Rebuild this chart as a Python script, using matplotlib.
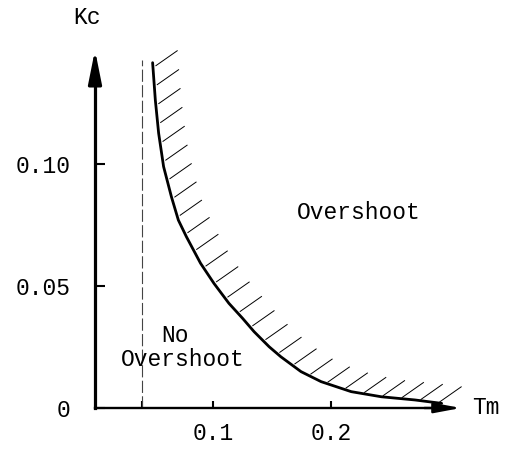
import matplotlib
matplotlib.use("Agg")
import matplotlib.pyplot as plt
import numpy as np

# boundary curve between overshoot / no overshoot regions
tm = [0.0488, 0.0511, 0.0539, 0.0581, 0.0647, 0.0706, 0.0774, 0.0894,
      0.1007, 0.1134, 0.1249, 0.1347, 0.1475, 0.1574, 0.1745, 0.1915,
      0.2170, 0.2426, 0.2709, 0.2936]
kc = [0.1415, 0.1262, 0.1126, 0.0989, 0.0866, 0.0770, 0.0702, 0.0593,
      0.0511, 0.0429, 0.0368, 0.0313, 0.0251, 0.0210, 0.0149, 0.0108,
      0.0067, 0.0046, 0.0033, 0.0019]

tm_limit = 0.04          # dashed vertical asymptote
tm_limit_top = 0.1426

x_ticks = [0.1, 0.2]
x_ticklabels = ["0.1", "0.2"]
y_ticks = [0.0, 0.05, 0.10]
y_ticklabels = ["0", "0.05", "0.10"]

FONT = "Liberation Mono"
FS = 16.5

W, H = 506, 450
fig = plt.figure(figsize=(W / 100, H / 100), dpi=100)
ax = fig.add_axes([95 / W, (H - 408) / H, (461 - 95) / W, (408 - 50) / H])
ax.set_xlim(0, 0.31)
ax.set_ylim(0, 0.1467)

for s in ("top", "right"):
    ax.spines[s].set_visible(False)
ax.spines["left"].set_linewidth(2.3)
ax.spines["left"].set_bounds(0, 0.135)
ax.spines["bottom"].set_linewidth(1.7)
ax.spines["bottom"].set_bounds(0, 0.29)

# arrow heads on the axes
ax.annotate("", xy=(0, 1), xytext=(0, 0.9), xycoords="axes fraction",
            arrowprops=dict(arrowstyle="-|>,head_length=1.0,head_width=0.2",
                            mutation_scale=20, lw=2.3, color="black",
                            shrinkA=0, shrinkB=0))
ax.annotate("", xy=(1, 0), xytext=(0.9, 0), xycoords="axes fraction",
            arrowprops=dict(arrowstyle="-|>,head_length=0.8,head_width=0.15",
                            mutation_scale=20, lw=1.7, color="black",
                            shrinkA=0, shrinkB=0))

ax.set_xticks(x_ticks, x_ticklabels, family=FONT, fontsize=FS)
ax.set_xticks([tm_limit], minor=True)
ax.set_yticks(y_ticks, y_ticklabels, family=FONT, fontsize=FS)
ax.tick_params(axis="x", which="both", direction="in", length=5, width=1.5,
               pad=10)
ax.tick_params(axis="y", direction="in", length=7, width=1.5, pad=17.5)

ax.text(-0.022, 1.092, "Kc", transform=ax.transAxes, family=FONT,
        fontsize=FS, ha="center", va="center")
ax.text(1.03, 0.0, "Tm", transform=ax.transAxes, family=FONT, fontsize=FS,
        ha="left", va="center", clip_on=False)

ax.vlines(tm_limit, 0, tm_limit_top, colors="#444444", lw=0.8,
          linestyles=(0, (11, 3)))

ax.plot(tm, kc, color="black", lw=2.0, solid_capstyle="round",
        solid_joinstyle="round")

# hatching on the overshoot side, built along the curve in pixel space
fig.canvas.draw()
pts = ax.transData.transform(np.column_stack([tm, kc]))
seg = np.hypot(*np.diff(pts, axis=0).T)
arc = np.concatenate([[0], np.cumsum(seg)])
ang = np.deg2rad(35)
inv = ax.transData.inverted()
for s in np.arange(4, arc[-1] + 5, 19):
    px = np.interp(s, arc, pts[:, 0]) + 3
    py = np.interp(s, arc, pts[:, 1]) + 1
    a = inv.transform([(px, py), (px + 26 * np.cos(ang), py + 26 * np.sin(ang))])
    ax.plot(a[:, 0], a[:, 1], color="black", lw=0.7, clip_on=False)

ax.text(0.2238, 0.0803, "Overshoot", family=FONT, fontsize=FS, ha="center",
        va="center")
ax.text(0.068, 0.0299, "No", family=FONT, fontsize=FS, ha="center",
        va="center")
ax.text(0.074, 0.0197, "Overshoot", family=FONT, fontsize=FS, ha="center",
        va="center")

fig.savefig("out.png", dpi=100)
